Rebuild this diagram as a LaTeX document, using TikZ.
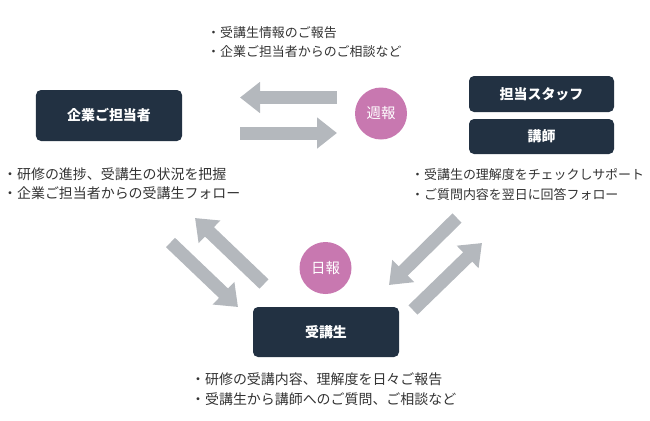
\documentclass[tikz,border=0pt]{standalone}
\usepackage{fontspec}
\setmainfont{Noto Sans CJK JP}
\usetikzlibrary{arrows.meta}
\definecolor{navy}{HTML}{223142}
\definecolor{mauve}{HTML}{C878B0}
\definecolor{flowgray}{HTML}{B4B8BD}
\definecolor{notegray}{HTML}{333333}

\begin{document}
\begin{tikzpicture}[x=1bp,y=-1bp,
    rolebox/.style={fill=navy,rounded corners=5bp,text=white,inner sep=0pt,font=\fontsize{14}{14}\selectfont\bfseries},
    reportnode/.style={circle,fill=mauve,text=white,inner sep=0pt,minimum size=52bp,font=\fontsize{14.5}{14.5}\selectfont},
    flow/.style={draw=flowgray,line width=13bp,-{Triangle[width=30bp,length=20bp]}},
    memo/.style={anchor=west,align=left,text=notegray,inner sep=0pt,font=\fontsize{14}{19.5}\selectfont},
    smallmemo/.style={memo,font=\fontsize{13}{19.5}\selectfont}]

  %%%% Frame of the picture %%%%
  \useasboundingbox (0,0) rectangle (650,420);

  %% Boxes for each role
  \node[rolebox,minimum width=146bp,minimum height=51bp] (company) at (109,115.5) {企業ご担当者};
  \node[rolebox,minimum width=145bp,minimum height=36bp] (staff) at (541.5,94) {担当スタッフ};
  \node[rolebox,minimum width=145bp,minimum height=35bp] (teacher) at (541.5,136.5) {講師};
  \node[rolebox,minimum width=146bp,minimum height=50bp] (student) at (326,332) {受講生};

  %% Reports
  \node[reportnode] (weekly) at (381,113.5) {週報};
  \node[reportnode] (daily) at (325.5,268) {日報};

  %% Ends of the arrows
  \coordinate (wk-from) at (337,97.5);
  \coordinate (wk-to) at (240,97.5);
  \coordinate (cp-from) at (240,133);
  \coordinate (cp-to) at (337,133);
  \coordinate (cs-from) at (170.5,242.5);
  \coordinate (cs-to) at (238,307);
  \coordinate (sc-from) at (264,284);
  \coordinate (sc-to) at (195,218);
  \coordinate (ts-from) at (457,218);
  \coordinate (ts-to) at (389,285);
  \coordinate (st-from) at (413,310);
  \coordinate (st-to) at (482,243);

  \foreach \a in {wk,cp,cs,sc,ts,st}{
    \draw[flow] (\a-from) -- (\a-to);
  }

  %% Notes beside the boxes
  \node[smallmemo] (weeklynote) at (207,42) {・受講生情報のご報告\\・企業ご担当者からのご相談など};
  \node[memo] (companynote) at (3,183.5) {・研修の進捗、受講生の状況を把握\\・企業ご担当者からの受講生フォロー};
  \node[smallmemo] (staffnote) at (411,184.5) {・受講生の理解度をチェックしサポート\\・ご質問内容を翌日に回答フォロー};
  \node[memo] (studentnote) at (191,389) {・研修の受講内容、理解度を日々ご報告\\・受講生から講師へのご質問、ご相談など};

\end{tikzpicture}
\end{document}
